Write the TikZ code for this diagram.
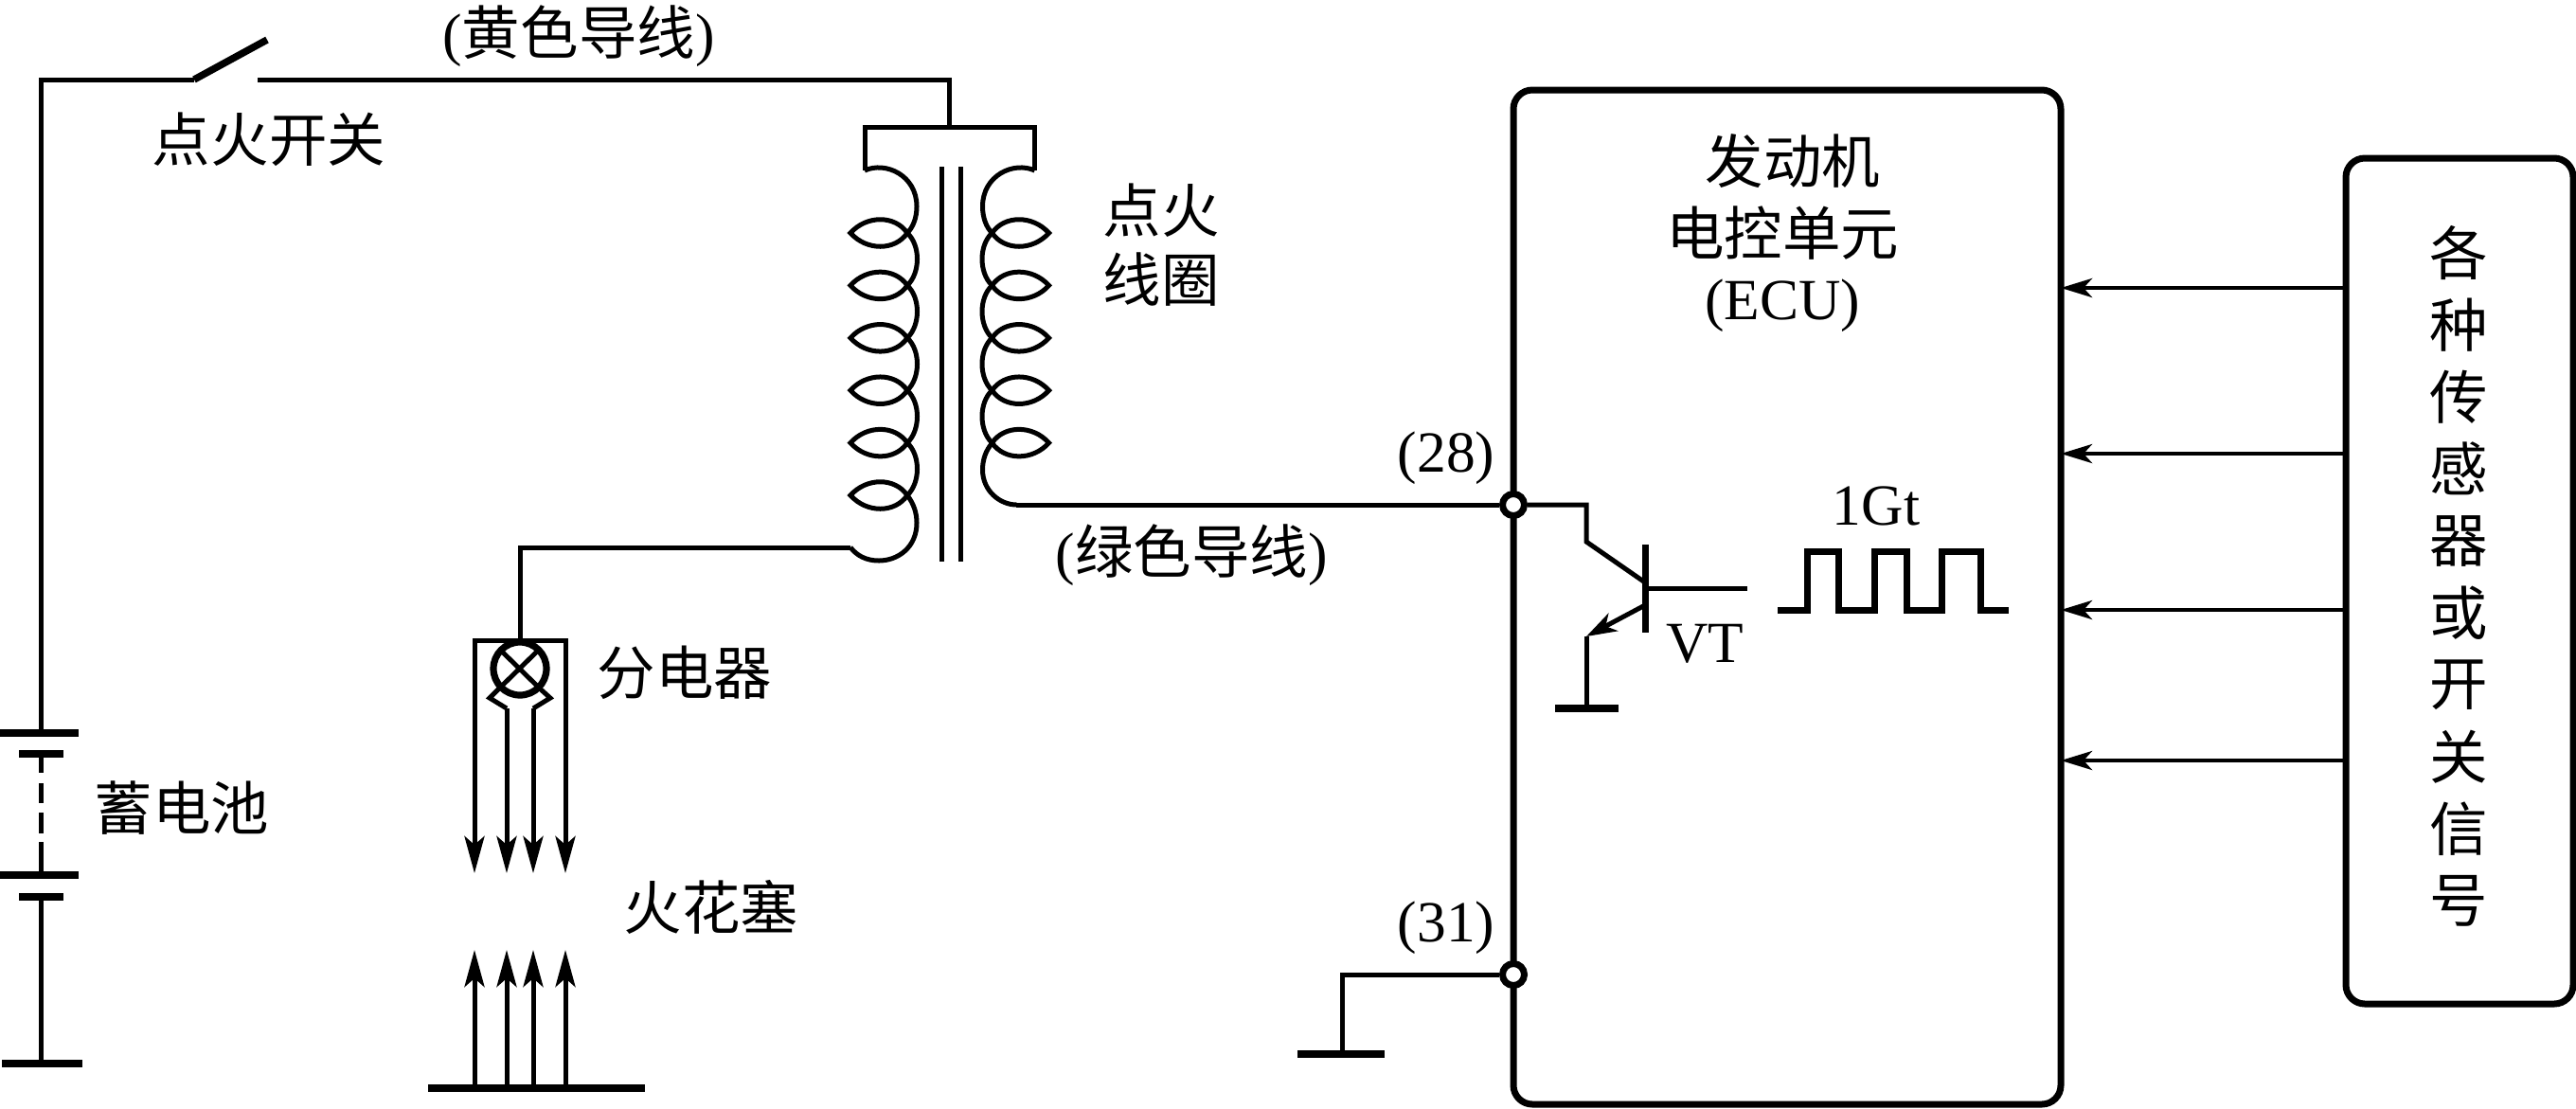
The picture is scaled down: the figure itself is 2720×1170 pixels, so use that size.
\documentclass[tikz,border=0pt]{standalone}
\usepackage{fontspec}
\setmainfont{Liberation Serif}
\newfontfamily\cjk{Noto Sans CJK SC}
\usetikzlibrary{arrows.meta,calc}
\tikzset{
  wire/.style={line width=.5mm},
  bar/.style={line width=.8mm},
  bigarr/.style={line width=.5mm,-{Stealth[length=3.9mm,width=2.1mm,inset=.9mm]}},
  smallarr/.style={line width=.45mm,-{Stealth[length=3.3mm,width=2mm,inset=.9mm]}},
  lbl/.style={inner sep=0pt,font=\fontsize{17.5}{20}\selectfont},
  term/.style={circle,draw,fill=white,inner sep=0pt,minimum size=2.3mm,line width=.7mm},
  blockbox/.style={draw,rounded corners=2mm,line width=.7mm,inner sep=0pt,outer sep=0pt},
}
\newcommand{\lens}[1]{%
  \draw[wire] (958,#1) .. controls (945,#1+19) and (915,#1+19) .. (898,#1)
     .. controls (915,#1-19) and (945,#1-19) .. (958,#1);}
\newcommand{\bulge}[1]{%
  \draw[wire] (958,#1) .. controls (972,#1+13) and (972,#1+42) .. (958,#1+55.4);}
\begin{document}
\begin{tikzpicture}[x=.1mm,y=-.1mm]
\useasboundingbox (0,0) rectangle (2720,1170);
% battery
\coordinate (swl) at (205,84);
\coordinate (swt) at (282,42);
\coordinate (swr) at (272,84);
\coordinate (corner) at (43,84);
\coordinate (b1) at (43,774);
\coordinate (b2) at (43,796);
\coordinate (b3) at (43,924);
\coordinate (b4) at (43,947);
\coordinate (b5) at (43,1123);
\draw[wire] (swl) -- (corner) -- (b1);
\draw[bar] (0,774) -- (83,774);
\draw[bar] (20,796) -- (67,796);
\draw[wire] (b2) -- (43,816) (43,827) -- (43,848) (43,858) -- (43,880) (43,889) -- (b3);
\draw[bar] (0,924) -- (83,924);
\draw[bar] (20,947) -- (67,947);
\draw[wire] (b4) -- (b5);
\draw[bar] (2,1123) -- (87,1123);
% switch
\draw[line width=.75mm] (swl) -- (swt);
% coil box
\coordinate (cbl) at (913,134);
\coordinate (cbr) at (1092,134);
\coordinate (cbt) at (1002,134);
\draw[wire] (swr) -- (1002,84) -- (cbt);
\draw[wire] (913,180) -- (cbl) -- (cbr) -- (1092,180);
% core
\draw[wire] (994,176) -- (994,593);
\draw[wire] (1014,176) -- (1014,593);
% primary (left) coil
\draw[wire] (913,180) .. controls (935,170) and (968,185) .. (968,218)
   .. controls (968,230) and (964,240) .. (958,246);
\foreach \k in {0,...,5}{\pgfmathsetmacro{\yy}{246+55.4*\k}\lens{\yy}}
\foreach \k in {0,...,4}{\pgfmathsetmacro{\yy}{246+55.4*\k}\bulge{\yy}}
\draw[wire] (958,523) .. controls (965,532) and (968,542) .. (968,552)
   .. controls (968,578) and (948,592) .. (928,592)
   .. controls (915,592) and (905,587) .. (898,578);
% secondary (right) coil
\begin{scope}[shift={(2005.5,0)},xscale=-1]
\draw[wire] (913,180) .. controls (935,170) and (968,185) .. (968,218)
   .. controls (968,230) and (964,240) .. (958,246);
\foreach \k in {0,...,4}{\pgfmathsetmacro{\yy}{246+55.4*\k}\lens{\yy}}
\foreach \k in {0,...,3}{\pgfmathsetmacro{\yy}{246+55.4*\k}\bulge{\yy}}
\draw[wire] (958,468) .. controls (965,476) and (968,486) .. (968,496)
   .. controls (968,518) and (950,533) .. (932,533);
\end{scope}
\coordinate (coilend) at (1073,533);
% distributor
\coordinate (d0) at (898,578);
\coordinate (d1) at (549,578);
\coordinate (d2) at (549,676);
\draw[wire] (d0) -- (d1) -- (d2);
\draw[wire] (501,720) -- (501,676) -- (597,676) -- (597,720);
\draw[bigarr] (501,700) -- (501,922);
\draw[bigarr] (597,700) -- (597,922);
\draw[bigarr] (535,748) -- (535,922);
\draw[bigarr] (563,748) -- (563,922);
\draw[line width=.72mm] (549,706) circle (28);
\draw[wire] (527,685) -- (570,727) (570,685) -- (527,727);
\draw[wire,line join=miter] (535,748) -- (517,737) -- (527,727);
\draw[wire,line join=miter] (563,748) -- (581,737) -- (570,727);
% plugs
\draw[bar] (452,1149) -- (681,1149);
\foreach \xx in {501,535,563,597}{\draw[bigarr] (\xx,1149) -- (\xx,1003);}
% ECU and sensors
\node[blockbox,minimum width=57.8mm,minimum height=107.1mm] (ecu) at (1887,630.5) {};
\node[blockbox,minimum width=24mm,minimum height=89.3mm] (sens) at (2597,613.5) {};
\foreach \yy in {304,479,644,803}{\draw[smallarr] (sens.west |- 0,\yy) -- (ecu.east |- 0,\yy);}
% terminals
\node[term] (t28) at (ecu.west |- 0,533) {};
\node[term] (t31) at (ecu.west |- 0,1029) {};
\draw[wire] (coilend) -- (t28);
% ground of 31
\coordinate (g1) at (1417,1029);
\coordinate (g2) at (1417,1113);
\draw[wire] (t31) -- (g1) -- (g2);
\draw[bar] (1370,1113) -- (1462,1113);
% transistor
\coordinate (c1) at (1675,533);
\coordinate (c2) at (1675,572);
\coordinate (c3) at (1737,615);
\coordinate (e1) at (1737,639);
\coordinate (e2) at (1675,672);
\coordinate (e3) at (1675,748);
\draw[wire] (t28) -- (c1) -- (c2) -- (c3);
\draw[line width=.7mm] (1737,575) -- (1737,668);
\draw[wire] (1737,621) -- (1845,621);
\draw[line width=.5mm,-{Stealth[length=3.2mm,width=2.1mm,inset=.9mm]}] (e1) -- (e2);
\draw[wire] (e2) -- (e3);
\draw[bar] (1642,748) -- (1709,748);
% pulse
\draw[line width=.7mm] (1877,644) -- (1908,644) -- (1908,582) -- (1941,582) -- (1941,644)
  -- (1979,644) -- (1979,582) -- (2013,582) -- (2013,644) -- (2050,644) -- (2050,582)
  -- (2091,582) -- (2091,644) -- (2121,644);
% labels
\node[lbl] (l1) at (611,38) {({\cjk 黄色导线})};
\node[lbl] (l2) at (284,147) {\cjk 点火开关};
\node[lbl] (l3) at (1226,222) {\cjk 点火};
\node[lbl] (l4) at (1226,295) {\cjk 线圈};
\node[lbl] (l5) at (1258,586) {({\cjk 绿色导线})};
\node[lbl] (l6) at (1527,484) {(28)};
\node[lbl] (l7) at (1527,980) {(31)};
\node[lbl] (l8) at (723,710) {\cjk 分电器};
\node[lbl] (l9) at (751,958) {\cjk 火花塞};
\node[lbl] (l10) at (192,853) {\cjk 蓄电池};
\node[lbl] (l11) at (1893,170) {\cjk 发动机};
\node[lbl] (l12) at (1882,246) {\cjk 电控单元};
\node[lbl] (l13) at (1882,323) {(ECU)};
\node[lbl] (l14) at (1800,680) {VT};
\node[lbl] (l15) at (1981,534) {1Gt};
\foreach \ch [count=\i from 0] in {各,种,传,感,器,或,开,关,信,号}{
  \pgfmathsetmacro{\yy}{267+76*\i}
  \node[lbl] (s\i) at (2596,\yy) {\cjk \ch};
}
\end{tikzpicture}
\end{document}
